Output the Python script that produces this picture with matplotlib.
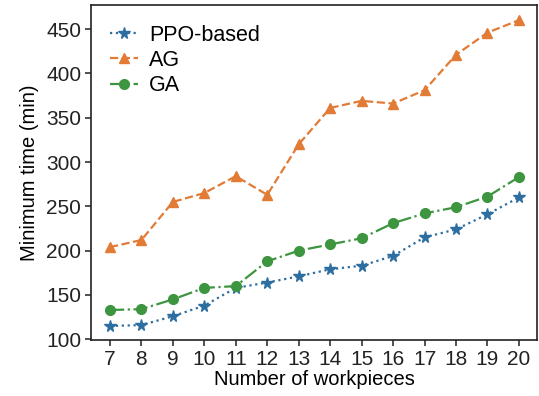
import matplotlib
matplotlib.use("Agg")
import matplotlib.pyplot as plt

# Data
workpieces = [7, 8, 9, 10, 11, 12, 13, 14, 15, 16, 17, 18, 19, 20]
ppo_based = [115, 116, 126, 138, 158, 164, 171, 179, 183, 194, 215, 224, 241, 260]
ag = [204, 212, 255, 265, 284, 263, 320, 361, 369, 366, 381, 421, 446, 460]
ga = [133, 134, 145, 158, 160, 188, 200, 207, 214, 231, 242, 249, 261, 283]

BLUE = "#2d6ea0"
ORANGE = "#e27b36"
GREEN = "#3d963f"

plt.rcParams.update({
    "font.family": ["Liberation Sans", "DejaVu Sans"],
    "font.size": 14.5,
})

fig, ax = plt.subplots(figsize=(5.39, 3.96), dpi=100)
ax.plot(workpieces, ppo_based, ":", marker="*", color=BLUE,
        markersize=8.5, linewidth=1.6, label="PPO-based")
ax.plot(workpieces, ag, "--", marker="^", color=ORANGE,
        markersize=7.5, linewidth=1.6, label="AG")
ax.plot(workpieces, ga, "-.", marker="o", color=GREEN,
        markersize=7, linewidth=1.6, label="GA")

ax.set_xticks(workpieces)
ax.set_xlim(6.4, 20.57)
ax.set_ylim(99, 477)
ax.set_yticks([100, 150, 200, 250, 300, 350, 400, 450])
ax.set_xlabel("Number of workpieces", labelpad=1)
ax.set_ylabel("Minimum time (min)", labelpad=5)
ax.tick_params(direction="out", length=4, width=1.1, labelsize=15, pad=3,
               colors="#222222")
for s in ax.spines.values():
    s.set_linewidth(1.2)
    s.set_color("#222222")
ax.legend(loc="upper left", frameon=False, fontsize=15.5,
          handlelength=1.3, handletextpad=0.5, labelspacing=0.2)

fig.subplots_adjust(left=0.169, right=0.996, top=0.987, bottom=0.141)
fig.savefig("out.png", dpi=100)
